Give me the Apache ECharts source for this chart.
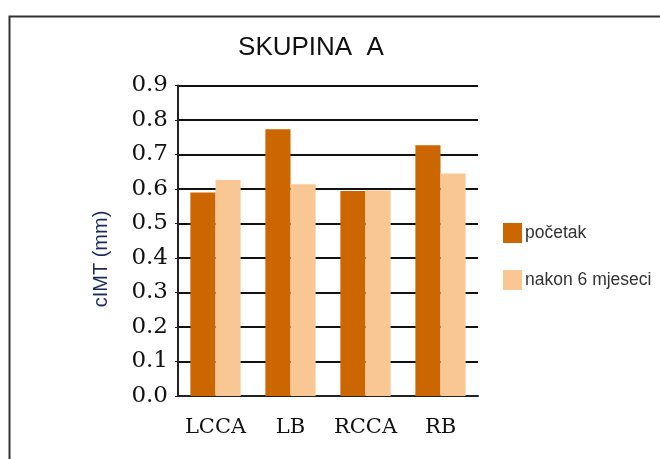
<!DOCTYPE html>
<html><head><meta charset="utf-8">
<script src="https://cdn.jsdelivr.net/npm/echarts@6/dist/echarts.min.js"></script>
<style>html,body{margin:0;padding:0;background:#fff}#c{width:660px;height:459px}</style>
</head><body><div id="c"></div>
<script>
var categories = ['LCCA', 'LB', 'RCCA', 'RB'];
var pocetak = [0.590, 0.773, 0.594, 0.727];
var nakon = [0.626, 0.614, 0.596, 0.645];
var yTicks = { min: 0, max: 0.9, interval: 0.1 };

var chart = echarts.init(document.getElementById('c'));
chart.setOption({
  animation: false,
  backgroundColor: '#fff',
  graphic: [{
    type: 'rect', left: 7, top: 14, shape: { width: 720, height: 520 },
    style: { fill: 'none', stroke: '#333', lineWidth: 2 }, z: -1
  }, {
    type: 'text', x: 101, y: 259, rotation: Math.PI / 2,
    style: { text: 'cIMT (mm)', font: '20px "Liberation Sans"', fill: '#1a2a5c',
      textAlign: 'center', textVerticalAlign: 'middle' }
  }],
  title: {
    text: 'SKUPINA  A', left: 306, top: 30, textAlign: 'center',
    textStyle: { fontFamily: 'Liberation Sans', fontWeight: 'normal', fontSize: 26, color: '#111' }
  },
  legend: {
    orient: 'vertical', left: 498, top: 218, itemGap: 27, itemWidth: 19, itemHeight: 20,
    icon: 'rect', itemStyle: { borderWidth: 0 },
    textStyle: { fontFamily: 'Liberation Sans', fontSize: 17.5, color: '#333', padding: [0, 0, 0, -2] },
    data: ['početak', 'nakon 6 mjeseci']
  },
  grid: { left: 178, right: 182, top: 85.5, bottom: 63, containLabel: false },
  xAxis: {
    type: 'category', data: categories,
    axisLine: { lineStyle: { color: '#222', width: 2 } },
    axisTick: { show: false },
    axisLabel: { interval: 0, fontFamily: 'DejaVu Serif', fontSize: 21, color: '#111', margin: 21 }
  },
  yAxis: {
    type: 'value', min: yTicks.min, max: yTicks.max, interval: yTicks.interval,
    axisLine: { show: true, lineStyle: { color: '#222', width: 2 } },
    axisTick: { show: true, length: 3, lineStyle: { color: '#222' } },
    splitLine: { lineStyle: { color: '#111', width: 2 } },
    axisLabel: { fontFamily: 'DejaVu Serif', fontSize: 23, color: '#111', margin: 10,
      formatter: function (v) { return v.toFixed(1); } }
  },
  series: [
    { name: 'početak', type: 'bar', data: pocetak, barGap: '0%', barCategoryGap: '33%',
      itemStyle: { color: '#CC6600' } },
    { name: 'nakon 6 mjeseci', type: 'bar', data: nakon,
      itemStyle: { color: '#F9C793' } }
  ]
});
</script></body></html>
